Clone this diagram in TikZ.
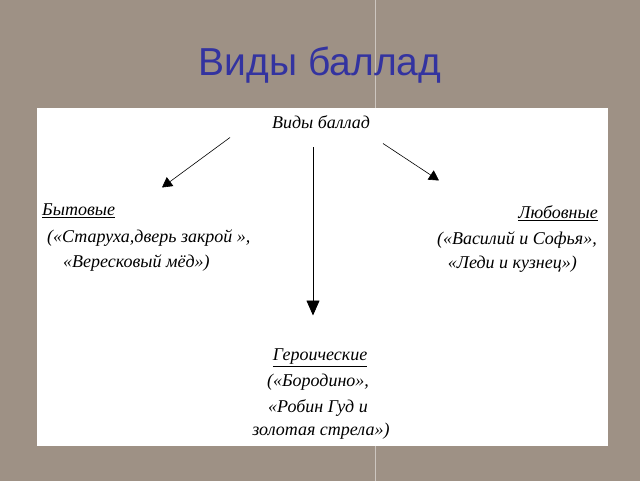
\documentclass[tikz,border=0pt]{standalone}
\usepackage{fontspec}
\setmainfont{Liberation Serif}
\newfontfamily\titlefont{Liberation Sans}
\usetikzlibrary{arrows.meta}
\definecolor{granite}{RGB}{158,145,133}
\definecolor{seam}{RGB}{205,198,192}
\definecolor{titleblue}{RGB}{51,51,160}
\tikzset{
  kind/.style={font=\itshape\fontsize{18}{25}\selectfont, inner sep=0pt},
  branch/.style={-{Triangle[length=10pt,width=11pt]}, semithick},
}
\begin{document}
\begin{tikzpicture}[x=1pt,y=-1pt]
  % background and sheet
  \fill[granite] (0,0) rectangle (640,480);
  \draw[seam, line width=1pt] (375,0) -- (375,480);
  \fill[white] (37,108) rectangle (608,445);
  % title
  \node[titleblue, font=\titlefont\fontsize{39}{44}\selectfont, anchor=base, inner sep=0pt] (title) at (320,75) {Виды баллад};
  % root
  \node[kind, anchor=base] (root) at (321,128) {Виды баллад};
  % left branch
  \node[kind, anchor=base west] (byt) at (42,215) {\underline{Бытовые}};
  \node[kind, anchor=base west] (byt2) at (47,242) {(«Старуха,дверь закрой »,};
  \node[kind, anchor=base west] (byt3) at (63,267) {«Вересковый мёд»)};
  % right branch
  \node[kind, anchor=base east] (lub) at (598,218) {\underline{Любовные}};
  \node[kind, anchor=base east] (lub2) at (597,244) {(«Василий и Софья»,};
  \node[kind, anchor=base east] (lub3) at (577,268) {«Леди и кузнец»)};
  % lower branch
  \node[kind, anchor=base] (ger) at (320,360) {\underline{Героические}};
  \node[kind, anchor=base] (ger2) at (318,386) {(«Бородино»,};
  \node[kind, anchor=base] (ger3) at (318,412) {«Робин Гуд и};
  \node[kind, anchor=base] (ger4) at (321,435) {золотая стрела»)};
  % arrows
  \coordinate (lfrom) at (230,137);
  \coordinate (lto) at (162,187);
  \coordinate (rfrom) at (383,143);
  \coordinate (rto) at (439,180);
  \coordinate (dfrom) at (313,147);
  \coordinate (dto) at (313,315);
  \draw[branch] (lfrom) -- (lto);
  \draw[branch] (rfrom) -- (rto);
  \draw[branch, thick, -{Triangle[length=15pt,width=13pt]}] (dfrom) -- (dto);
\end{tikzpicture}
\end{document}
